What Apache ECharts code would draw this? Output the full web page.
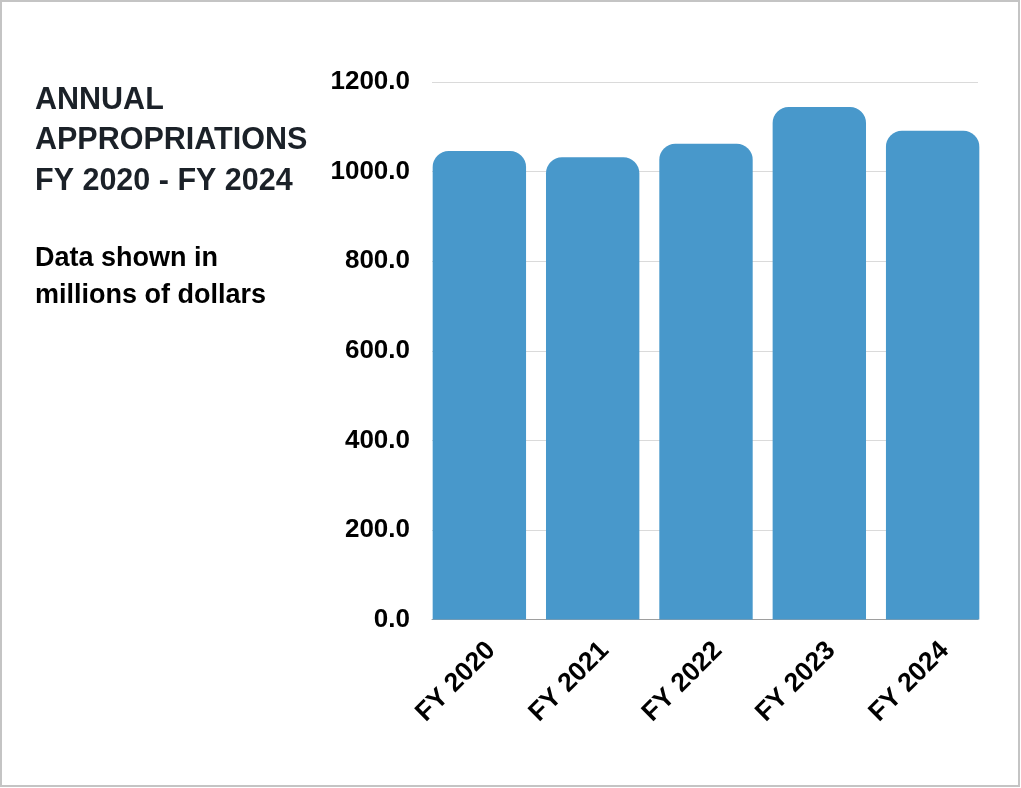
<!DOCTYPE html>
<html>
<head>
<meta charset="utf-8">
<title>Annual Appropriations FY 2020 - FY 2024</title>
<script src="https://cdn.jsdelivr.net/npm/echarts@6/dist/echarts.min.js"></script>
<style>
  html, body { margin: 0; padding: 0; background: #ffffff; }
  #chart { width: 1021px; height: 788px; }
</style>
</head>
<body>
<div id="chart"></div>
<script>
// Fiscal years and appropriations (millions of dollars)
const categories = ['FY 2020', 'FY 2021', 'FY 2022', 'FY 2023', 'FY 2024'];
const appropriations = [1046, 1032, 1062, 1144, 1091];

// Value axis ticks
const yMin = 0;
const yMax = 1200;
const yInterval = 200;

const titleLines = ['ANNUAL', 'APPROPRIATIONS', 'FY 2020 - FY 2024'];
const noteLines = ['Data shown in', 'millions of dollars'];

const FONT = '"Liberation Sans", Arial, Helvetica, sans-serif';
const BAR_COLOR = '#4898cb';

const chart = echarts.init(document.getElementById('chart'), null, { renderer: 'canvas' });

const plotTop = 82;
const plotHeight = 537.5;
const barLeft = 422.7;
const barWidth = 566.6;
const labelShift = 12;

chart.setOption({
  animation: false,
  backgroundColor: '#ffffff',
  grid: [
    // frame for value axis and gridlines
    { left: 432, width: 546, top: plotTop, height: plotHeight },
    // bars: categories span slightly past the gridlines so outer bars sit flush
    { left: barLeft, width: barWidth, top: plotTop, height: plotHeight },
    // category labels, nudged right so the slanted text ends past each bar centre
    { left: barLeft + labelShift, width: barWidth, top: plotTop, height: plotHeight }
  ],
  xAxis: [
    {
      gridIndex: 0,
      type: 'value',
      min: 0,
      max: 1,
      axisLine: { show: true, lineStyle: { color: '#9e9e9e', width: 1 } },
      axisTick: { show: false },
      axisLabel: { show: false },
      splitLine: { show: false }
    },
    {
      gridIndex: 1,
      type: 'category',
      data: categories,
      axisLine: { show: false },
      axisTick: { show: false },
      splitLine: { show: false },
      axisLabel: { show: false }
    },
    {
      gridIndex: 2,
      type: 'category',
      data: categories,
      axisLine: { show: false },
      axisTick: { show: false },
      splitLine: { show: false },
      axisLabel: {
        rotate: 45,
        margin: 27,
        color: '#000000',
        fontFamily: FONT,
        fontWeight: 'bold',
        fontSize: 26.5,
        interval: 0
      }
    }
  ],
  yAxis: [
    {
      gridIndex: 0,
      type: 'value',
      min: yMin,
      max: yMax,
      interval: yInterval,
      axisLine: { show: false },
      axisTick: { show: false },
      splitLine: { show: true, lineStyle: { color: '#dadada', width: 1 } },
      axisLabel: {
        margin: 22,
        padding: [4, 0, 0, 0],
        color: '#000000',
        fontFamily: FONT,
        fontWeight: 'bold',
        fontSize: 26,
        formatter: (v) => v.toFixed(1)
      }
    },
    {
      gridIndex: 1,
      type: 'value',
      min: yMin,
      max: yMax,
      interval: yInterval,
      show: false,
      splitLine: { show: false }
    },
    {
      gridIndex: 2,
      type: 'value',
      min: yMin,
      max: yMax,
      interval: yInterval,
      show: false,
      splitLine: { show: false }
    }
  ],
  series: [
    {
      type: 'bar',
      xAxisIndex: 1,
      yAxisIndex: 1,
      data: appropriations,
      barCategoryGap: '17.6%',
      itemStyle: { color: BAR_COLOR, borderRadius: [16, 16, 0, 0] },
      z: 3
    }
  ],
  graphic: [
    {
      type: 'rect',
      position: [0, 0],
      shape: { x: 1, y: 1, width: 1018, height: 785 },
      style: { fill: 'none', stroke: '#c4c4c4', lineWidth: 2 },
      z: 10,
      silent: true
    },
    {
      type: 'text',
      left: 35,
      top: 80,
      style: {
        text: titleLines.join('\n'),
        font: 'bold 30.5px ' + FONT,
        fill: '#1b2128',
        lineHeight: 40.5
      }
    },
    {
      type: 'text',
      left: 35,
      top: 240,
      style: {
        text: noteLines.join('\n'),
        font: 'bold 27px ' + FONT,
        fill: '#000000',
        lineHeight: 37
      }
    }
  ]
});
</script>
</body>
</html>
